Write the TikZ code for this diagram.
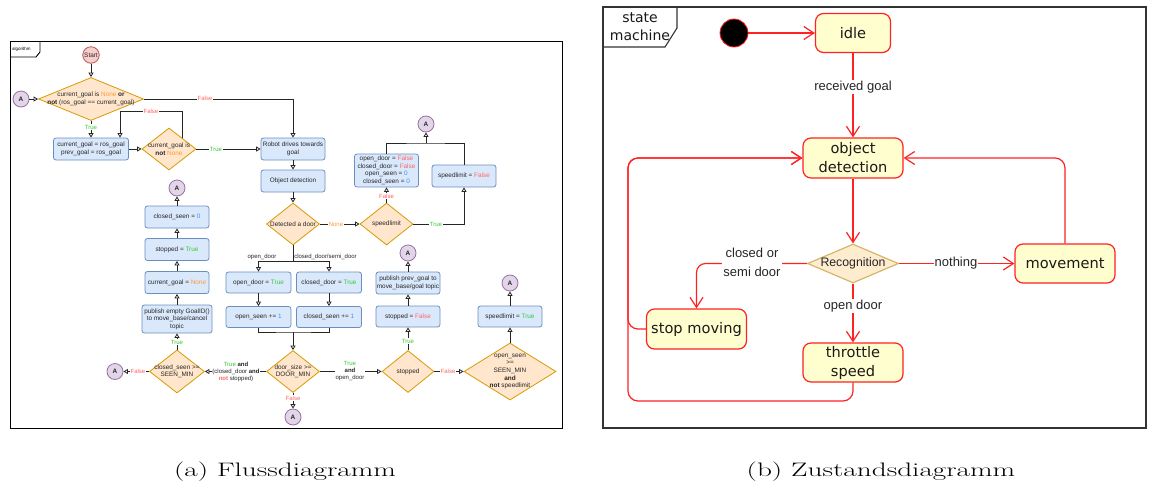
\documentclass[tikz,border=0pt]{standalone}
\usepackage{fontspec}
\usetikzlibrary{shapes.geometric,arrows.meta,calc}
\newfontfamily\arialf{Liberation Sans}
\newfontfamily\dejaf{DejaVu Sans}

\definecolor{boxF}{HTML}{DAE8FC}
\definecolor{boxD}{HTML}{6C8EBF}
\definecolor{diaF}{HTML}{FFE6CC}
\definecolor{diaD}{HTML}{D79B00}
\definecolor{startF}{HTML}{F8CECC}
\definecolor{startD}{HTML}{B85450}
\definecolor{conF}{HTML}{E1D5E7}
\definecolor{conD}{HTML}{9673A6}
\definecolor{cTrue}{HTML}{33CC33}
\definecolor{cFalse}{HTML}{FF6666}
\definecolor{cNone}{HTML}{FF9933}
\definecolor{cNum}{HTML}{3399FF}
\definecolor{stF}{HTML}{FEFECE}
\definecolor{stD}{HTML}{FF2222}
\definecolor{recF}{HTML}{FEECCF}
\definecolor{recD}{HTML}{D6B66A}
\definecolor{frameG}{HTML}{333333}

\newcommand{\kwT}{\textcolor{cTrue}{True}}
\newcommand{\kwF}{\textcolor{cFalse}{False}}
\newcommand{\kwN}{\textcolor{cNone}{None}}
\newcommand{\kwNum}[1]{\textcolor{cNum}{#1}}

\tikzset{
  flow/.style={font=\arialf\fontsize{6.4}{7.6}\selectfont, text=black!85},
  fbox/.style={flow, draw=boxD, fill=boxF, rounded corners=2.5pt, line width=0.8pt,
    minimum width=64pt, minimum height=22pt, inner sep=0.5pt, align=center},
  fdia/.style={diamond, draw=diaD, fill=diaF, line width=0.8pt, inner sep=0pt},
  ftxt/.style={flow, align=center, inner sep=0pt},
  conn/.style={circle, draw=conD, fill=conF, line width=0.8pt, minimum size=16pt,
    inner sep=0pt, text=black!85, font=\arialf\bfseries\fontsize{6.4}{7.6}\selectfont},
  fline/.style={draw=black!85, line width=0.8pt},
  farr/.style={fline, -{Triangle[open,length=4.5pt,width=5pt]}},
  flab/.style={fill=white, inner sep=0.6pt, align=center, text=black!85,
    font=\arialf\fontsize{6}{7}\selectfont},
  state/.style={draw=stD, fill=stF, rounded corners=8pt, line width=1.2pt,
    font=\dejaf\fontsize{14.6}{19}\selectfont, align=center, inner sep=1pt, text=black!90},
  sline/.style={draw=stD, line width=1.2pt},
  sarr/.style={sline, -{Straight Barb[length=10pt,width=13pt]}},
  slab/.style={font=\arialf\fontsize{13}{19}\selectfont, fill=white, inner sep=1pt,
    align=center, text=black!85},
  caption/.style={font=\fontsize{19.5}{23}\selectfont, inner sep=0pt, anchor=base}
}

\begin{document}
\begin{tikzpicture}[x=1pt,y=-1pt]
\useasboundingbox (0,0) rectangle (1149,483);
\fill[white] (0,0) rectangle (1149,483);

% ---------------- flow chart ----------------
\draw[line width=0.9pt] (10,41) rectangle (562,428);
\draw[line width=0.9pt] (10,57) -- (36,57) -- (40,52) -- (40,41);
\node[font=\arialf\fontsize{4.5}{5}\selectfont, anchor=west, inner sep=0] (algtag) at (12,49) {algorithm};

\node[circle, draw=startD, fill=startF, line width=0.8pt, minimum size=16.5pt, inner sep=0pt,
  flow] (start) at (91,55) {Start};
\node[fdia, minimum width=105pt, minimum height=43pt] (d1) at (91,99) {};
\node[ftxt] (d1t) at (d1) {current\_goal is \kwN\ \textbf{or}\\\textbf{not} (ros\_goal == current\_goal)};
\node[conn] (a1) at (21,99) {A};
\node[fbox, minimum width=75pt] (b1) at (91,149) {current\_goal = ros\_goal\\prev\_goal = ros\_goal};
\node[fdia, minimum width=54pt, minimum height=42pt] (d2) at (169,149) {};
\node[ftxt] (d2t) at (d2) {current\_goal is\\\textbf{not} \kwN};

\node[fbox] (robot) at (293,149) {Robot drives towards\\goal};
\node[fbox] (objdet) at (293,181) {Object detection};
\node[fdia, minimum width=53pt, minimum height=42pt] (ddoor) at (293,224) {};
\node[ftxt] (ddoort) at (ddoor) {Detected a door};
\node[fdia, minimum width=53pt, minimum height=42pt] (speed) at (386.5,224) {};
\node[ftxt] (speedt) at (speed) {speedlimit};
\node[fbox, minimum height=33pt] (breset) at (386.5,170.5)
  {open\_door = \kwF\\closed\_door = \kwF\\open\_seen = \kwNum{0}\\closed\_seen = \kwNum{0}};
\node[fbox] (bslf) at (464,176) {speedlimit = \kwF};
\node[conn] (atop) at (426,124) {A};

% left column
\node[conn] (al) at (177,188) {A};
\node[fbox] (bcs0) at (177,217) {closed\_seen = \kwNum{0}};
\node[fbox] (bstt) at (177,249.5) {stopped = \kwT};
\node[fbox] (bcgn) at (177,282.5) {current\_goal = \kwN};
\node[fbox, minimum width=70pt, minimum height=28pt] (bpub) at (177,319)
  {publish empty GoalID()\\to move\_base/cancel\\topic};
\node[fdia, minimum width=55pt, minimum height=43pt] (dcs) at (177,371.5) {};
\node[ftxt] (dcst) at (dcs) {closed\_seen >=\\SEEN\_MIN};
\node[conn] (al2) at (115,371.5) {A};

% door branches
\node[fbox, minimum width=65pt, minimum height=21pt] (bodt) at (258.5,282.5) {open\_door = \kwT};
\node[fbox, minimum width=65pt, minimum height=21pt] (bcdt) at (329,282.5) {closed\_door = \kwT};
\node[fbox, minimum width=65pt, minimum height=21pt] (bos) at (258.5,317) {open\_seen += \kwNum{1}};
\node[fbox, minimum width=65pt, minimum height=21pt] (bcs) at (329,317) {closed\_seen += \kwNum{1}};
\node[fdia, minimum width=53pt, minimum height=42pt] (dds) at (293,371.5) {};
\node[ftxt] (ddst) at (dds) {door\_size >=\\DOOR\_MIN};
\node[conn] (ab) at (293,417) {A};

% stopped branch
\node[fdia, minimum width=52pt, minimum height=42pt] (dst) at (408,371.5) {};
\node[ftxt] (dstt) at (dst) {stopped};
\node[fbox, minimum height=21pt] (bstf) at (408,316.5) {stopped = \kwF};
\node[fbox] (bpg) at (408,283) {publish prev\_goal to\\move\_base/goal topic};
\node[conn] (as) at (408,253) {A};

\node[fdia, minimum width=92pt, minimum height=57pt] (dbig) at (510,371.5) {};
\node[ftxt] (dbigt) at (dbig) {open\_seen\\>=\\SEEN\_MIN\\\textbf{and}\\\textbf{not} speedlimit};
\node[fbox, minimum height=21pt] (bslt) at (510,316.5) {speedlimit = \kwT};
\node[conn] (ar) at (510,283) {A};

% connectors
\draw[farr] (start) -- (d1);
\draw[farr] (a1) -- (d1);
\draw[farr] (d1) -- (b1);
\draw[farr] (b1) -- (d2);
\coordinate (fl) at (120,111);
\draw[farr] (d2.north east) |- (fl) -- (fl |- b1.north);
\draw[farr] (d2) -- (robot);
\draw[farr] (d1.east) -| (robot.north);
\draw[farr] (robot) -- (objdet);
\draw[farr] (objdet) -- (ddoor);
\draw[farr] (ddoor) -- (speed);
\draw[farr] (speed) -- (breset);
\draw[farr] (speed.east) -| (bslf.south);
\coordinate (jt) at (426,143);
\draw[fline] (breset.north) |- (jt) -| (bslf.north);
\draw[farr] (jt) -- (atop);

\draw[farr] (dcs) -- (bpub);
\draw[farr] (bpub) -- (bcgn);
\draw[farr] (bcgn) -- (bstt);
\draw[farr] (bstt) -- (bcs0);
\draw[farr] (bcs0) -- (al);
\draw[farr] (dcs) -- (al2);

\coordinate (jd) at (293,261);
\draw[fline] (ddoor) -- (jd);
\draw[farr] (jd) -| (bodt.north);
\draw[farr] (jd) -| (bcdt.north);
\draw[farr] (bodt) -- (bos);
\draw[farr] (bcdt) -- (bcs);
\coordinate (jb) at (293,332);
\draw[fline] (bos.south) |- (jb) -| (bcs.south);
\draw[farr] (jb) -- (dds);
\draw[farr] (dds) -- (dcs);
\draw[farr] (dds) -- (ab);
\draw[farr] (dds) -- (dst);
\draw[farr] (dst) -- (bstf);
\draw[farr] (bstf) -- (bpg);
\draw[farr] (bpg) -- (as);
\draw[farr] (dst) -- (dbig);
\draw[farr] (dbig) -- (bslt);
\draw[farr] (bslt) -- (ar);

% connector labels
\node[flab] (l1) at (91,127) {\kwT};
\node[flab] (l2) at (151,111) {\kwF};
\node[flab] (l3) at (216,149) {\kwT};
\node[flab] (l4) at (205,98) {\kwF};
\node[flab] (l5) at (336,224) {\kwN};
\node[flab] (l6) at (386.5,196) {\kwF};
\node[flab] (l7) at (436,224) {\kwT};
\node[flab, fill=none, anchor=south, inner sep=0.8pt] (l8) at (262,261) {open\_door};
\node[flab, fill=none, anchor=south, inner sep=0.8pt] (l9) at (325.5,261) {closed\_door/semi\_door};
\node[flab] (l10) at (177,342) {\kwT};
\node[flab] (l11) at (138,371.5) {\kwF};
\node[flab] (l12) at (236,371.5) {\kwT\ \textbf{and}\\(closed\_door \textbf{and}\\\textcolor{cFalse}{\textbf{not}} stopped)};
\node[flab] (l13) at (293,398) {\kwF};
\node[flab] (l14) at (350,371.5) {\kwT\\\textbf{and}\\open\_door};
\node[flab] (l15) at (408,341) {\kwT};
\node[flab] (l16) at (448,371.5) {\kwF};

% ---------------- state machine ----------------
\draw[draw=frameG, line width=1.3pt] (603,7) rectangle (1146,428);
\draw[draw=frameG, line width=1.1pt] (603,47) -- (665,47) -- (677,28) -- (677,7);
\node[font=\dejaf\fontsize{14}{18}\selectfont, align=center, inner sep=0, text=black!90] (smtag) at (640,27) {state\\machine};

\node[circle, fill=black, draw=stD, line width=0.8pt, minimum size=28pt, inner sep=0pt] (init) at (734,33) {};
\node[state, minimum width=75pt, minimum height=39pt] (idle) at (853,33) {idle};
\node[state, minimum width=100pt, minimum height=40pt] (objd) at (853,158) {object\\detection};
\node[diamond, draw=recD, fill=recF, line width=1.2pt, minimum width=91pt, minimum height=39pt,
  inner sep=0pt] (rec) at (853,263.5) {};
\node[font=\arialf\fontsize{12.3}{14}\selectfont, inner sep=0pt, text=black!85] (rect) at (rec) {Recognition};
\node[state, minimum width=100pt, minimum height=39pt] (mov) at (1065,263.5) {movement};
\node[state, minimum width=100pt, minimum height=40pt] (stop) at (696.5,329) {stop moving};
\node[state, minimum width=100pt, minimum height=39pt] (thr) at (853,362.5) {throttle\\speed};

\draw[sarr] (init) -- (idle);
\draw[sarr] (idle) -- (objd);
\draw[sarr] (objd) -- (rec);
\draw[sarr] (rec) -- (mov);
\draw[sarr] (rec) -- (thr);
\draw[sarr, rounded corners=9pt] (rec.west) -| (stop.north);
\draw[sarr, rounded corners=10pt] (mov.north) |- (objd.east);
\coordinate (lp) at (628,401);
\draw[sarr, rounded corners=10pt] (thr.south) |- (lp) |- (objd.west);
\draw[sarr, rounded corners=10pt] (stop.west) -| (lp |- objd.west) -- (objd.west);

\node[slab] (lrg) at (853,87) {received goal};
\node[slab] (lno) at (956,263) {nothing};
\node[slab] (lod) at (853,306) {open door};
\node[slab] (lcs) at (752,262) {closed or\\semi door};

% ---------------- captions ----------------
\node[caption] (capa) at (285,476) {\scalebox{1.5}[1]{(a) Flussdiagramm}};
\node[caption] (capb) at (881,476) {\scalebox{1.5}[1]{(b) Zustandsdiagramm}};
\end{tikzpicture}
\end{document}
